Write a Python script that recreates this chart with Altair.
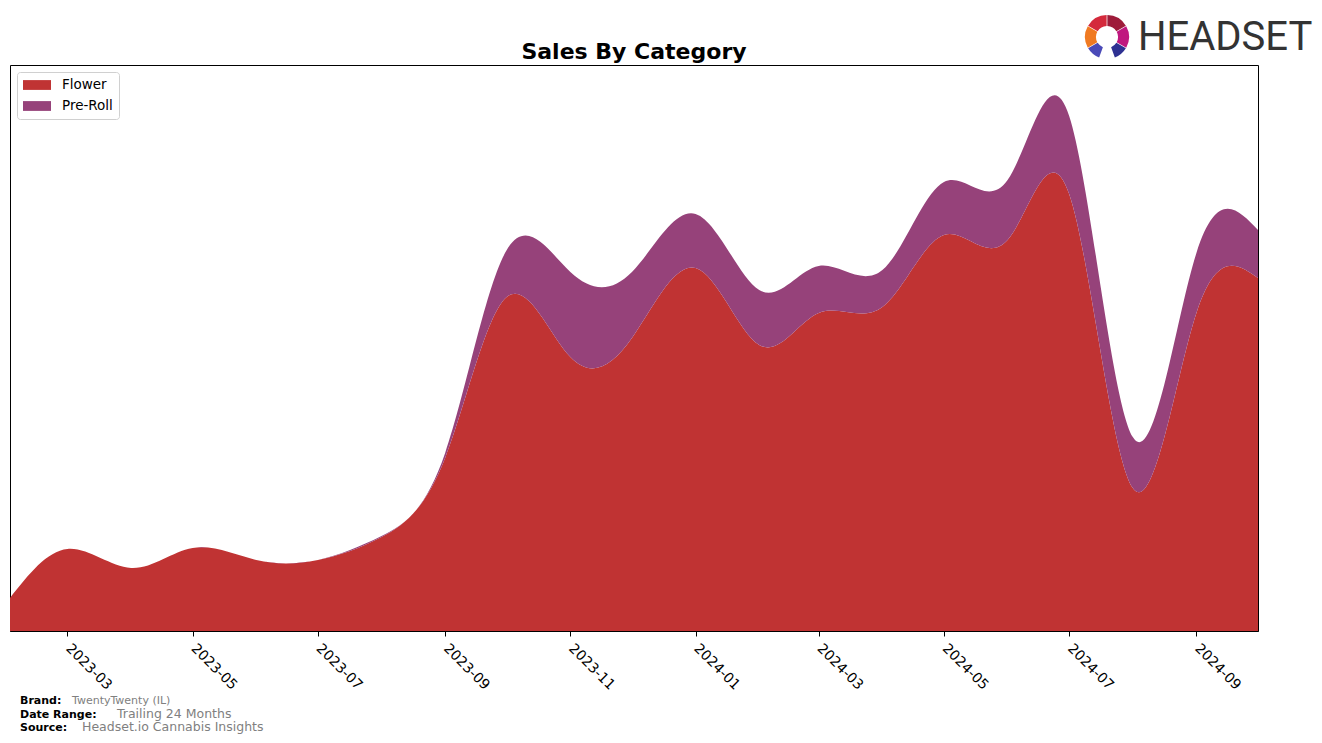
import altair as alt
import pandas as pd
import math

months = ["2023-02-01", "2023-03-01", "2023-04-01", "2023-05-01", "2023-06-01", "2023-07-01",
          "2023-08-01", "2023-09-01", "2023-10-01", "2023-11-01", "2023-12-01", "2024-01-01",
          "2024-02-01", "2024-03-01", "2024-04-01", "2024-05-01", "2024-06-01", "2024-07-01",
          "2024-08-01", "2024-09-01", "2024-10-01"]
flower = [33, 82, 63, 83, 71, 71, 94, 173, 334, 274, 293, 363, 286, 318, 324, 396, 391, 437, 143, 318, 353]
preroll = [0, 0, 0, 0, 0, 0, 1, 5, 47, 85, 66, 54, 55, 47, 37, 53, 60, 78, 51, 60, 48]
categories = ["Flower", "Pre-Roll"]
colors = ["#c03333", "#96427a"]

rows = []
for i, m in enumerate(months):
    rows.append({"date": m, "category": "Flower", "value": flower[i], "ord": 0})
    rows.append({"date": m, "category": "Pre-Roll", "value": preroll[i], "ord": 1})
df = pd.DataFrame(rows)

rect_path = "M-2,-0.7L2,-0.7L2,0.7L-2,0.7Z"

area = alt.Chart(df).mark_area(interpolate="natural").encode(
    x=alt.X("date:T", scale=alt.Scale(type="utc", nice=False),
            axis=alt.Axis(title=None, format="%Y-%m", tickCount=alt.TickCount(interval="month", step=2),
                          labelAngle=45, labelAlign="left", labelBaseline="top",
                          labelFont="DejaVu Sans", labelFontSize=14, labelColor="black",
                          tickColor="black", tickSize=5, domainColor="black", grid=False,
                          labelPadding=5, labelOffset=5, labelOverlap=False, labelFlush=False)),
    y=alt.Y("value:Q", stack="zero", scale=alt.Scale(domain=[0, 566], nice=False, zero=True), axis=None),
    color=alt.Color("category:N", scale=alt.Scale(domain=categories, range=colors),
                    legend=alt.Legend(title=None, orient="none", legendX=7, legendY=7,
                                      symbolType=rect_path, symbolSize=196, symbolStrokeWidth=0,
                                      symbolOffset=7,
                                      labelFont="DejaVu Sans", labelFontSize=13.5, labelColor="black",
                                      fillColor="white", strokeColor="#d0d0d0", cornerRadius=3,
                                      padding=6, rowPadding=7, labelOffset=18)),
    order=alt.Order("ord:Q"),
)

title = alt.Chart(pd.DataFrame([{"t": "Sales By Category"}])).mark_text(
    align="center", baseline="middle", font="DejaVu Sans", fontSize=22, fontWeight="bold", color="black"
).encode(text="t:N", x=alt.value(624), y=alt.value(-13))

foot = [
    ("Brand:", 10, 636, True, 11, "black"),
    ("TwentyTwenty (IL)", 62, 636, False, 11, "#808080"),
    ("Date Range:", 10, 650, True, 11, "black"),
    ("Trailing 24 Months", 107, 649, False, 12.5, "#808080"),
    ("Source:", 10, 663, True, 11, "black"),
    ("Headset.io Cannabis Insights", 72, 662, False, 12.5, "#808080"),
]

def ftext(t, x, y, bold, size, c):
    return alt.Chart(pd.DataFrame([{"t": t}])).mark_text(
        align="left", baseline="middle", font="DejaVu Sans", fontSize=size,
        fontWeight="bold" if bold else "normal", color=c
    ).encode(text="t:N", x=alt.value(x), y=alt.value(y))

foot_layers = [ftext(*f) for f in foot]

logo_text = alt.Chart(pd.DataFrame([{"t": "HEADSET"}])).mark_text(
    align="left", baseline="middle", font="Roboto",
    fontSize=40, color="#333333"
).encode(text="t:N", x=alt.value(1128), y=alt.value(-27))

seg = pd.DataFrame({
    "t0": [math.radians(a) for a in [-60, 0, 60, 120, 200, 240]],
    "t1": [math.radians(a) for a in [0, 60, 120, 160, 240, 300]],
    "col": ["#d42a3c", "#9e1c3a", "#c0187f", "#2e3192", "#4a4ab8", "#f07a22"],
})
logo_icon = alt.Chart(seg).mark_arc(radius=22, radius2=11, padAngle=0.03).encode(
    theta=alt.Theta("t0:Q", scale=None), theta2="t1:Q",
    color=alt.Color("col:N", scale=None, legend=None),
    x=alt.value(1097), y=alt.value(-28),
)

chart = alt.layer(area, title, logo_icon, logo_text, *foot_layers).resolve_scale(color="independent").properties(
    width=1248, height=566,
    autosize=alt.AutoSizeParams(type="none"),
    padding={"left": 2, "top": 57, "right": 56, "bottom": 103},
).configure(background="white", view=alt.ViewConfig(stroke="black", strokeWidth=1))

chart.save("out.html", embed_options={"renderer": "svg", "actions": False})
